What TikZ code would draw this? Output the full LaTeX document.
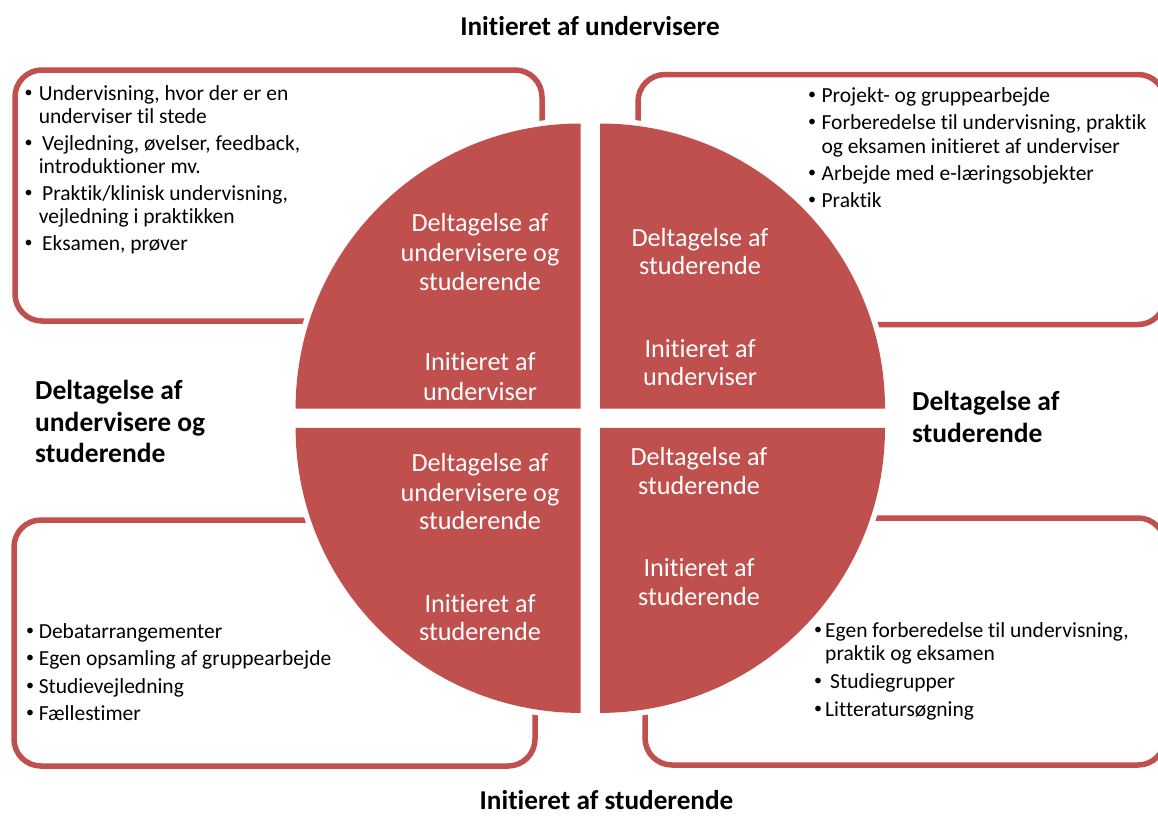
\documentclass[tikz,border=0pt]{standalone}
\usepackage{fontspec}
\setmainfont{Carlito}[Ligatures=NoCommon]
\definecolor{qred}{HTML}{C0504D}
\begin{document}
\begin{tikzpicture}[x=1pt,y=-1pt,
  frame/.style={draw=qred, line width=5.5pt, rounded corners=27pt},
  quad/.style={fill=qred},
  halo/.style={fill=white},
  lst/.style={anchor=base west, inner sep=0pt, font=\fontsize{21.5pt}{24pt}\selectfont},
  bul/.style={anchor=center, inner sep=0pt, font=\fontsize{16pt}{18pt}\selectfont},
  qt/.style={anchor=base, inner sep=0pt, text=white, font=\fontsize{26.2pt}{28pt}\selectfont},
  lab/.style={anchor=base west, inner sep=0pt, font=\bfseries\fontsize{27.5pt}{32pt}\selectfont},
  ttl/.style={anchor=base, inner sep=0pt, font=\bfseries\fontsize{27.2pt}{32pt}\selectfont}]
\useasboundingbox (0,0) rectangle (1158,816);
\fill[white] (0,0) rectangle (1158,816);
\clip (0,0) rectangle (1158,816);

% boxes
\draw[frame] (15,70) rectangle (542,321);
\draw[frame] (638,74.5) rectangle (1165,324.5);
\draw[frame] (14,520) rectangle (535,766);
\draw[frame] (645,518) rectangle (1165,765);

% quadrant corners
\coordinate (ctl) at (580.6,408.5);
\coordinate (ctr) at (600,408.5);
\coordinate (cbl) at (580.6,427.9);
\coordinate (cbr) at (600,427.9);

% white halo
\fill[halo] (ctl) -- ++(-290.5,0) arc[start angle=180,end angle=90,radius=290.5pt] -- cycle;
\fill[halo] (ctr) -- ++(0,-290.5) arc[start angle=90,end angle=0,radius=290.5pt] -- cycle;
\fill[halo] (cbr) -- ++(290.5,0) arc[start angle=0,end angle=-90,radius=290.5pt] -- cycle;
\fill[halo] (cbl) -- ++(0,290.5) arc[start angle=-90,end angle=-180,radius=290.5pt] -- cycle;
% red quadrants
\fill[quad] (ctl) -- ++(-285,0) arc[start angle=180,end angle=90,radius=285pt] -- cycle;
\fill[quad] (ctr) -- ++(0,-285) arc[start angle=90,end angle=0,radius=285pt] -- cycle;
\fill[quad] (cbr) -- ++(285,0) arc[start angle=0,end angle=-90,radius=285pt] -- cycle;
\fill[quad] (cbl) -- ++(0,285) arc[start angle=-90,end angle=-180,radius=285pt] -- cycle;

% quadrant texts
\node[qt] (q1a) at (480,231) {Deltagelse af};
\node[qt] (q1b) at (480,261) {undervisere og};
\node[qt] (q1c) at (480,290.5) {studerende};
\node[qt] (q1d) at (480,370) {Initieret af};
\node[qt] (q1e) at (480,400) {underviser};

\node[qt] (q2a) at (700,246.7) {Deltagelse af};
\node[qt] (q2b) at (700,274.3) {studerende};
\node[qt] (q2c) at (700,357.7) {Initieret af};
\node[qt] (q2d) at (700,385.7) {underviser};

\node[qt] (q3a) at (480,471) {Deltagelse af};
\node[qt] (q3b) at (480,501) {undervisere og};
\node[qt] (q3c) at (480,529.7) {studerende};
\node[qt] (q3d) at (480,612) {Initieret af};
\node[qt] (q3e) at (480,640.7) {studerende};

\node[qt] (q4a) at (699,465) {Deltagelse af};
\node[qt] (q4b) at (699,494) {studerende};
\node[qt] (q4c) at (699,576.3) {Initieret af};
\node[qt] (q4d) at (699,605.3) {studerende};

% top-left list
\node[bul] (b11) at (28.6,93.5) {\textbullet};
\node[bul] (b12) at (28.6,143.5) {\textbullet};
\node[bul] (b13) at (28.6,193.5) {\textbullet};
\node[bul] (b14) at (28.6,243.5) {\textbullet};
\node[lst] (l11) at (38.6,100) {Undervisning, hvor der er en};
\node[lst] (l12) at (38.6,123) {underviser til stede};
\node[lst] (l13) at (42,150) {Vejledning, øvelser, feedback,};
\node[lst] (l14) at (38.6,173) {introduktioner mv.};
\node[lst] (l15) at (42,200) {Praktik/klinisk undervisning,};
\node[lst] (l16) at (38.6,223) {vejledning i praktikken};
\node[lst] (l17) at (42,250) {Eksamen, prøver};

% top-right list
\node[bul] (b21) at (812,95.5) {\textbullet};
\node[bul] (b22) at (812,122.5) {\textbullet};
\node[bul] (b23) at (812,173.5) {\textbullet};
\node[bul] (b24) at (812,200.5) {\textbullet};
\node[lst] (l21) at (821.4,102) {Projekt- og gruppearbejde};
\node[lst] (l22) at (821.4,129) {Forberedelse til undervisning, praktik};
\node[lst] (l23) at (821.4,153) {og eksamen initieret af underviser};
\node[lst] (l24) at (821.4,180) {Arbejde med e-læringsobjekter};
\node[lst] (l25) at (821.4,207) {Praktik};

% bottom-left list
\node[bul] (b31) at (30,632) {\textbullet};
\node[bul] (b32) at (30,658.5) {\textbullet};
\node[bul] (b33) at (30,686.5) {\textbullet};
\node[bul] (b34) at (30,713.5) {\textbullet};
\node[lst] (l31) at (38.6,638.5) {Debatarrangementer};
\node[lst] (l32) at (38.6,665) {Egen opsamling af gruppearbejde};
\node[lst] (l33) at (38.6,693) {Studievejledning};
\node[lst] (l34) at (38.6,720) {Fællestimer};

% bottom-right list
\node[bul] (b41) at (818,631) {\textbullet};
\node[bul] (b42) at (818,682) {\textbullet};
\node[bul] (b43) at (818,709.5) {\textbullet};
\node[lst] (l41) at (825,637.5) {Egen forberedelse til undervisning,};
\node[lst] (l42) at (825,660.5) {praktik og eksamen};
\node[lst] (l43) at (830,688.5) {Studiegrupper};
\node[lst] (l44) at (825,716) {Litteratursøgning};

% outer labels
\node[ttl] (top) at (590,36) {Initieret af undervisere};
\node[ttl] (bot) at (606.5,809) {Initieret af studerende};
\node[lab] (la1) at (35,399) {Deltagelse af};
\node[lab] (la2) at (35,431) {undervisere og};
\node[lab] (la3) at (35,462) {studerende};
\node[lab] (ra1) at (912,410) {Deltagelse af};
\node[lab] (ra2) at (912,442) {studerende};
\end{tikzpicture}
\end{document}
